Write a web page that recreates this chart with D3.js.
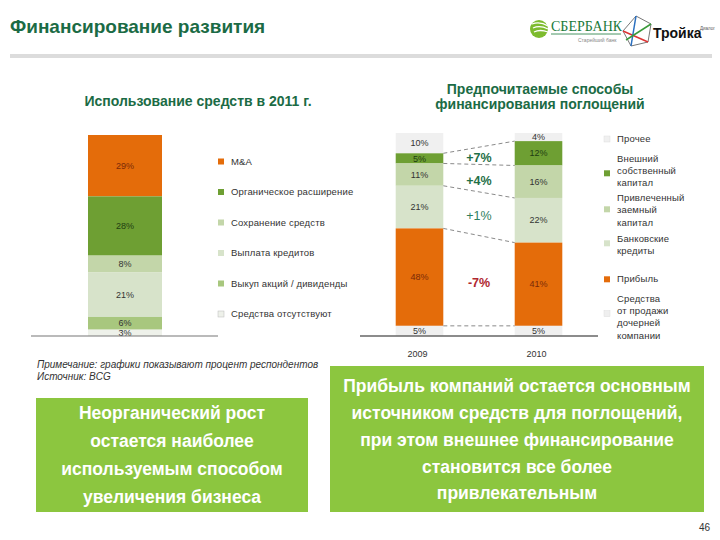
<!DOCTYPE html>
<html><head><meta charset="utf-8">
<script src="https://cdn.jsdelivr.net/npm/d3@7"></script>
<style>
body{margin:0;background:#fff;}
svg{display:block;font-family:"Liberation Sans",Arial,sans-serif;}
</style></head>
<body>
<svg id="c" width="720" height="540"></svg>
<script>
// ---------- data ----------
const leftBar = ["2011"];
const leftCategories = ["M&A","Органическое расширение","Сохранение средств","Выплата кредитов","Выкуп акций / дивиденды","Средства отсутствуют"];
const leftValues = [29,28,8,21,6,3];
const leftColors = ["#e46c0a","#6e9f33","#c3d6a9","#d7e3ca","#a8c77e","#eef1ea"];

const years = ["2009","2010"];
const rightCategories = ["Прочее","Внешний собственный капитал","Привлеченный заемный капитал","Банковские кредиты","Прибыль","Средства от продажи дочерней компании"];
const rightLegendLines = [["Прочее"],["Внешний","собственный","капитал"],["Привлеченный","заемный","капитал"],["Банковские","кредиты"],["Прибыль"],["Средства","от продажи","дочерней","компании"]];
const values2009 = [10,5,11,21,48,5];
const values2010 = [4,12,16,22,41,5];
const rightColors = ["#f0f0f0","#6e9f33","#c3d6a9","#d7e3ca","#e46c0a","#efefef"];
const changes = ["+7%","+4%","+1%","-7%"];
const changeColors = ["#1f7048","#1f7048","#2e8060","#b0272f"];
const changeWeights = ["bold","bold","normal","bold"];

const svg = d3.select("#c");

// ---------- header ----------
svg.append("text").attr("x",10).attr("y",33).attr("fill","#1b6b45")
  .attr("font-size",19).attr("font-weight","bold").text("Финансирование развития");
svg.append("rect").attr("x",10).attr("y",54).attr("width",702).attr("height",4).attr("fill","#dcdcdc");

// logos (approximation)
const lg = svg.append("g");
lg.append("circle").attr("cx",539).attr("cy",29).attr("r",9).attr("fill","#7dbb2e");
[0,1,2].forEach(i=>lg.append("path").attr("d",`M${532+i*1} ${24+i*4} Q540 ${21+i*4} ${548} ${26+i*3}`).attr("stroke","#fff").attr("stroke-width",1.3).attr("fill","none"));
lg.append("text").attr("x",551).attr("y",31).attr("font-family","Liberation Serif,serif").attr("font-size",14).attr("fill","#1a7a3a").text("СБЕРБАНК");
lg.append("line").attr("x1",551).attr("x2",621).attr("y1",34).attr("y2",34).attr("stroke","#1a7a3a").attr("stroke-width",0.8);
lg.append("text").attr("x",578).attr("y",42).attr("font-size",5).attr("fill","#888").text("Старейший банк");
const star = [[636,16],[651,24],[648,42],[631,46],[623,31]];
lg.append("polygon").attr("points",star.map(p=>p.join(",")).join(" ")).attr("fill","none").attr("stroke","#777").attr("stroke-width",1);
lg.append("line").attr("x1",623).attr("y1",31).attr("x2",648).attr("y2",42).attr("stroke","#d33").attr("stroke-width",1.5);
lg.append("line").attr("x1",636).attr("y1",16).attr("x2",631).attr("y2",46).attr("stroke","#2a6fc0").attr("stroke-width",1.5);
lg.append("line").attr("x1",651).attr("y1",24).attr("x2",626).attr("y2",40).attr("stroke","#3a9a3a").attr("stroke-width",1.5);
lg.append("text").attr("x",653).attr("y",38).attr("font-size",14).attr("font-weight","bold").attr("fill","#111").text("Тройка");
lg.append("text").attr("x",700).attr("y",30).attr("font-size",4.5).attr("fill","#555").text("Диалог");

// ---------- left chart ----------
svg.append("text").attr("x",198).attr("y",106).attr("text-anchor","middle").attr("fill","#1b6b45")
  .attr("font-size",14).attr("font-weight","bold").text("Использование средств в 2011 г.");

const xL = d3.scaleBand().domain(leftBar).range([88,162]);
const yL = d3.scaleLinear().domain([0,d3.sum(leftValues)]).range([135,336]);
const cumL = leftValues.map((v,i)=>d3.sum(leftValues.slice(0,i)));
const gL = svg.append("g");
gL.selectAll("rect").data(leftValues).join("rect")
  .attr("x",xL("2011")).attr("width",xL.bandwidth())
  .attr("y",(d,i)=>yL(cumL[i])).attr("height",d=>yL(d)-yL(0))
  .attr("fill",(d,i)=>leftColors[i]);
gL.selectAll("text").data(leftValues).join("text")
  .attr("x",xL("2011")+xL.bandwidth()/2).attr("y",(d,i)=>yL(cumL[i]+d/2)).attr("dy","0.35em")
  .attr("text-anchor","middle").attr("font-size",9)
  .attr("fill",(d,i)=> i===0?"#7a2a08":(i===1?"#1f3d12":"#333"))
  .text(d=>d+"%");
svg.append("line").attr("x1",31).attr("x2",218).attr("y1",336).attr("y2",336).attr("stroke","#777").attr("stroke-width",1.2);

// left legend
const legL = svg.append("g");
const legLy = d3.scalePoint().domain(leftCategories).range([161.5,314]);
legL.selectAll("rect").data(leftCategories).join("rect")
  .attr("x",218).attr("y",d=>legLy(d)-3).attr("width",6).attr("height",6)
  .attr("fill",(d,i)=>leftColors[i]).attr("stroke",(d,i)=>i===5?"#bbb":"none").attr("stroke-width",0.5);
legL.selectAll("text").data(leftCategories).join("text")
  .attr("x",231).attr("y",d=>legLy(d)).attr("dy","0.35em").attr("font-size",9.5).attr("fill","#333")
  .attr("letter-spacing",0.15).text(d=>d);

// note
svg.append("text").attr("x",37).attr("y",368).attr("font-size",10).attr("font-style","italic").attr("fill","#333")
  .text("Примечание: графики показывают процент респондентов");
svg.append("text").attr("x",37).attr("y",380).attr("font-size",10).attr("font-style","italic").attr("fill","#333")
  .text("Источник: BCG");

// ---------- right chart ----------
const rt = svg.append("text").attr("x",540).attr("text-anchor","middle").attr("fill","#1b6b45")
  .attr("font-size",14).attr("font-weight","bold");
rt.append("tspan").attr("x",540).attr("y",94).text("Предпочитаемые способы");
rt.append("tspan").attr("x",540).attr("y",109).text("финансирования поглощений");

const xR = d3.scaleBand().domain(years).range([360,598]).paddingInner(0.6).paddingOuter(0.3);
const yR = d3.scaleLinear().domain([0,100]).range([133,336]);
const seriesR = {"2009":values2009,"2010":values2010};
const gR = svg.append("g");
years.forEach(yr=>{
  const vals = seriesR[yr];
  const cum = vals.map((v,i)=>d3.sum(vals.slice(0,i)));
  const g = gR.append("g");
  g.selectAll("rect").data(vals).join("rect")
    .attr("x",xR(yr)).attr("width",xR.bandwidth())
    .attr("y",(d,i)=>yR(cum[i])).attr("height",d=>yR(d)-yR(0))
    .attr("fill",(d,i)=>rightColors[i]);
  g.selectAll("text").data(vals).join("text")
    .attr("x",xR(yr)+xR.bandwidth()/2).attr("y",(d,i)=>yR(cum[i]+d/2)).attr("dy","0.35em")
    .attr("text-anchor","middle").attr("font-size",9)
    .attr("fill",(d,i)=> i===4?"#7a2a08":(i===1?"#1f3d12":"#333"))
    .text(d=>d+"%");
});
// connecting dashed lines at segment boundaries
const cum09 = values2009.map((v,i)=>d3.sum(values2009.slice(0,i+1)));
const cum10 = values2010.map((v,i)=>d3.sum(values2010.slice(0,i+1)));
const bounds = [0,1,2,3,4];
const x1 = xR("2009")+xR.bandwidth(), x2 = xR("2010");
gR.selectAll("line.dash").data(bounds).join("line").attr("class","dash")
  .attr("x1",x1).attr("x2",x2)
  .attr("y1",i=>yR(cum09[i])).attr("y2",i=>yR(cum10[i]))
  .attr("stroke","#8a8a8a").attr("stroke-width",1).attr("stroke-dasharray","4,3");
// change labels (for segments 1..4)
gR.selectAll("text.chg").data(changes).join("text").attr("class","chg")
  .attr("x",(x1+x2)/2)
  .attr("y",(d,k)=>{const i=k+1; const m1=cum09[i]-values2009[i]/2, m2=cum10[i]-values2010[i]/2; return yR((m1+m2)/2)+2;})
  .attr("dy","0.35em").attr("text-anchor","middle").attr("font-size",12.5)
  .attr("font-weight",(d,k)=>changeWeights[k]).attr("fill",(d,k)=>changeColors[k]).text(d=>d);

svg.append("line").attr("x1",360).attr("x2",598).attr("y1",336).attr("y2",336).attr("stroke","#666").attr("stroke-width",1.6);
// year labels (top partly hidden like reference)
svg.append("clipPath").attr("id","yc").append("rect").attr("x",360).attr("y",349.5).attr("width",240).attr("height",20);
svg.append("g").attr("clip-path","url(#yc)").selectAll("text").data(years).join("text")
  .attr("x",d=>xR(d)+xR.bandwidth()/2-2).attr("y",357).attr("text-anchor","middle").attr("font-size",9).attr("fill","#333")
  .text(d=>d);

// right legend
const legR = svg.append("g");
const lineH = 12.3;
const firstLineY = [139,158.3,197.7,238.3,278.3,298.3];
const markerY = [139,173.3,209.3,243.3,279.3,313.7];
rightCategories.forEach((c,i)=>{
  legR.append("rect").attr("x",604).attr("y",markerY[i]-3).attr("width",6).attr("height",6)
    .attr("fill",rightColors[i]).attr("stroke",(i===0||i===5)?"#ddd":"none").attr("stroke-width",0.5);
  const t = legR.append("text").attr("font-size",9.5).attr("fill","#333").attr("letter-spacing",0.15);
  rightLegendLines[i].forEach((ln,j)=>t.append("tspan").attr("x",617).attr("y",firstLineY[i]+j*lineH).attr("dy","0.35em").text(ln));
});

// ---------- boxes ----------
const boxColor = "#8cc63f";
svg.append("rect").attr("x",36).attr("y",398).attr("width",272).attr("height",114).attr("fill",boxColor);
svg.append("rect").attr("x",330).attr("y",366).attr("width",374).attr("height",146).attr("fill",boxColor);
const leftLines = ["Неорганический рост","остается наиболее","используемым способом","увеличения бизнеса"];
const rightLines = ["Прибыль компаний остается основным","источником средств для поглощений,","при этом внешнее финансирование","становится все более","привлекательным"];
svg.append("g").selectAll("text").data(leftLines).join("text")
  .attr("x",172).attr("y",(d,i)=>413+i*28).attr("dy","0.35em").attr("text-anchor","middle")
  .attr("font-size",17.5).attr("font-weight","bold").attr("fill","#fff").text(d=>d);
svg.append("g").selectAll("text").data(rightLines).join("text")
  .attr("x",517).attr("y",(d,i)=>386+i*26.8).attr("dy","0.35em").attr("text-anchor","middle")
  .attr("font-size",17.5).attr("font-weight","bold").attr("fill","#fff").text(d=>d);

svg.append("text").attr("x",710).attr("y",531).attr("text-anchor","end").attr("font-size",10).attr("fill","#333").text("46");
</script>
</body></html>
